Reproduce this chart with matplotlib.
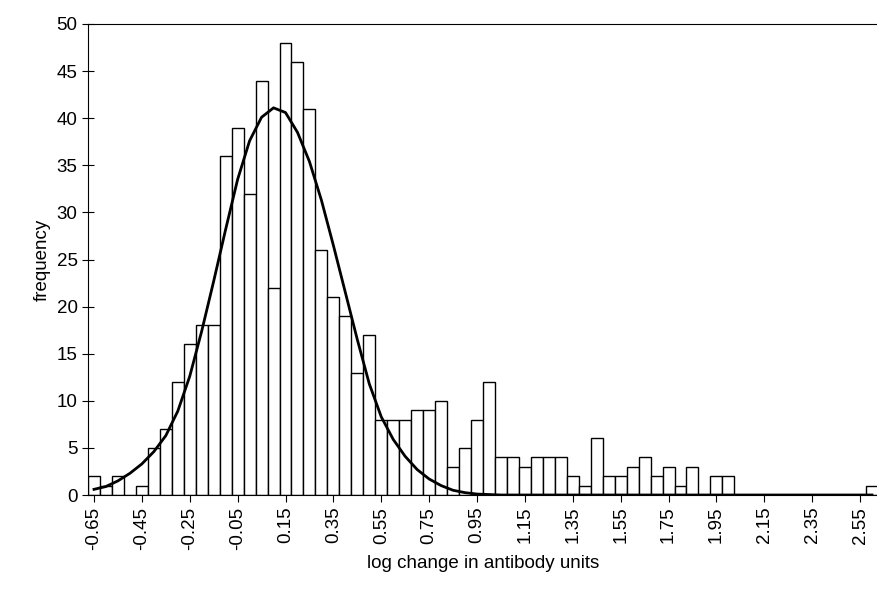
import numpy as np
import matplotlib.pyplot as plt

plt.rcParams['font.family'] = ['Liberation Sans', 'DejaVu Sans']

# bin centres: -0.65 .. 2.60 in steps of 0.05
bin_centres = np.round(np.arange(-0.65, 2.6001, 0.05), 2)

counts = [2, 1, 2, 0, 1, 5, 7, 12, 16, 18, 18, 36, 39, 32, 44, 22, 48, 46, 41, 26,
          21, 19, 13, 17, 8, 8, 8, 9, 9, 10, 3, 5, 8, 12, 4, 4, 3, 4, 4, 4,
          2, 1, 6, 2, 2, 3, 4, 2, 3, 1, 3, 0, 2, 2, 0, 0, 0, 0, 0, 0,
          0, 0, 0, 0, 0, 1]

# fitted normal curve, read at the bin centres
fit = [0.6, 0.9, 1.5, 2.3, 3.3, 4.6, 6.3, 8.9, 12.6, 17.4, 22.7, 28.2, 33.5, 37.6,
       40.1, 41.1, 40.6, 38.5, 35.4, 31.3, 26.5, 21.5, 16.5, 11.8, 8.3, 5.9, 4.1,
       2.7, 1.7, 1.0, 0.5, 0.25, 0.1, 0.05] + [0.0] * 32

tick_labels = ['-0.65', '-0.45', '-0.25', '-0.05', '0.15', '0.35', '0.55', '0.75',
               '0.95', '1.15', '1.35', '1.55', '1.75', '1.95', '2.15', '2.35', '2.55']

fig = plt.figure(figsize=(8.78, 5.99), dpi=100)
ax = fig.add_axes([88 / 878, 1 - 495 / 599, 1 - 88 / 878, (495 - 24) / 599])

ax.bar(bin_centres, counts, width=0.05, color='white', edgecolor='black', linewidth=1)
ax.plot(bin_centres, fit, color='black', linewidth=2)

ax.set_xlim(-0.675, 2.625)
ax.set_ylim(0, 50)
ax.set_yticks(range(0, 51, 5))
ax.set_xticks([float(t) for t in tick_labels])
ax.set_xticklabels(tick_labels, rotation=90)
ax.tick_params(axis='y', direction='inout', length=8, labelsize=13.5)
ax.tick_params(axis='x', direction='out', length=5, labelsize=13.5)
ax.spines['right'].set_visible(False)
ax.set_xlabel('log change in antibody units', fontsize=13.5)
ax.set_ylabel('frequency', fontsize=13.5)

fig.savefig('out.png', dpi=100)
